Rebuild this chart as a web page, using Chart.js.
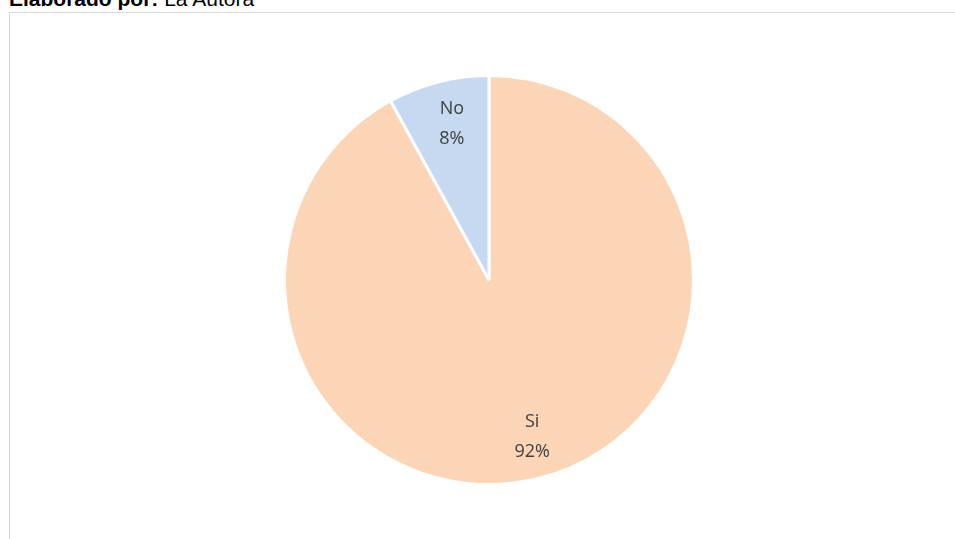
<!DOCTYPE html>
<html>
<head>
<meta charset="utf-8">
<script src="https://cdn.jsdelivr.net/npm/chart.js@4/dist/chart.umd.min.js"></script>
<style>
  html, body { margin: 0; padding: 0; background: #fff; overflow: hidden; width: 955px; height: 539px; }
  .source {
    position: absolute; left: 9px; top: -13px; line-height: 24px;
    font-family: "Liberation Sans", Arial, sans-serif; font-size: 21px; color: #000;
    white-space: nowrap;
  }
  .frame {
    position: absolute; left: 9px; top: 12px; width: 960px; height: 540px;
    border: 1px solid #d9d9d9; box-sizing: border-box;
  }
  .chart-box { position: absolute; left: 283px; top: 74px; width: 412px; height: 412px; }
</style>
</head>
<body>
<div class="source"><b>Elaborado por:</b> La Autora</div>
<div class="frame"></div>
<div class="chart-box"><canvas id="myPieChart"></canvas></div>
<script>
const labels = ['Si', 'No'];
const values = [92, 8];
const colors = ['#FBD5B5', '#C6D9F0'];

// etiquetas dentro de cada sector: nombre y porcentaje
const sliceLabels = {
  id: 'sliceLabels',
  afterDatasetsDraw(chart) {
    const ctx = chart.ctx;
    const meta = chart.getDatasetMeta(0);
    const total = values.reduce((a, b) => a + b, 0);
    ctx.save();
    ctx.font = '18px "Open Sans", "Liberation Sans", sans-serif';
    ctx.fillStyle = '#404040';
    ctx.textAlign = 'center';
    ctx.textBaseline = 'middle';
    meta.data.forEach((arc, i) => {
      const mid = (arc.startAngle + arc.endAngle) / 2;
      const r = arc.outerRadius * 0.79;
      const x = arc.x + Math.cos(mid) * r;
      const y = arc.y + Math.sin(mid) * r;
      const pct = Math.round(values[i] / total * 100) + '%';
      ctx.fillText(labels[i], x + 3, y - 15);
      ctx.fillText(pct, x + 3, y + 15);
    });
    ctx.restore();
  }
};

const pieChartContext = document.getElementById('myPieChart').getContext('2d');
new Chart(pieChartContext, {
  type: 'pie',
  data: {
    labels: labels,
    datasets: [{
      data: values,
      backgroundColor: colors,
      borderColor: '#ffffff',
      borderWidth: 3
    }]
  },
  options: {
    responsive: true,
    maintainAspectRatio: false,
    animation: false,
    layout: { padding: 0 },
    plugins: {
      legend: { display: false },
      tooltip: { enabled: false }
    }
  },
  plugins: [sliceLabels]
});
</script>
</body>
</html>
